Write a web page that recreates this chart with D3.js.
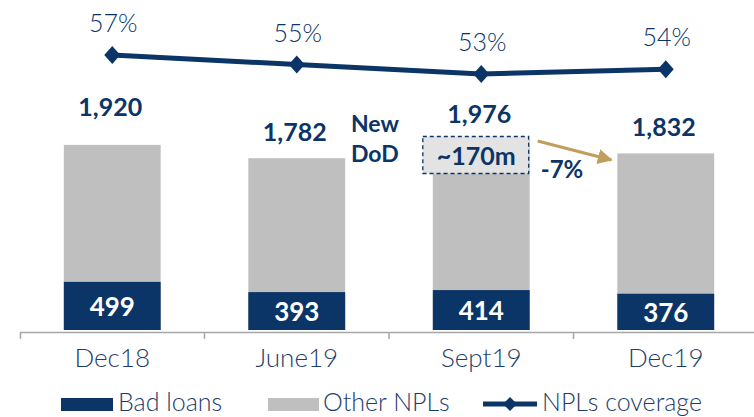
<!DOCTYPE html>
<html>
<head>
<meta charset="utf-8">
<script src="https://cdn.jsdelivr.net/npm/d3@7"></script>
<style>
  body { margin: 0; background: #fff; }
  svg { font-family: Lato, "Open Sans", sans-serif; }
</style>
</head>
<body>
<div id="chart"></div>
<script>
const categories = ['Dec18', 'June19', 'Sept19', 'Dec19'];
const badLoans = [499, 393, 414, 376];
const totalNpls = [1920, 1782, 1976, 1832];
const coverage = [57, 55, 53, 54];
const legendLabels = ['Bad loans', 'Other NPLs', 'NPLs coverage'];

const navy = '#0b3467';
const grey = '#bfbfbf';
const gold = '#c29e5e';

const width = 754, height = 417;
const baseY = 330;

const svg = d3.select('#chart').append('svg')
  .attr('width', width)
  .attr('height', height);

const x = d3.scaleBand()
  .domain(categories)
  .range([20, 758])
  .padding(0);

const barW = x.bandwidth() * 0.525;
const barX = d => x(d) + (x.bandwidth() - barW) / 2;

const y = d3.scaleLinear()
  .domain([0, 2000])
  .range([baseY, baseY - 192.8]);

const y2 = d3.scaleLinear()
  .domain([0, 60])
  .range([325.75, 40.75]);

// stacked bars
const stackData = categories.map((c, i) => ({cat: c, bad: badLoans[i], total: totalNpls[i]}));

svg.append('g')
  .selectAll('rect')
  .data(stackData)
  .enter().append('rect')
  .attr('x', d => barX(d.cat))
  .attr('y', d => y(d.total))
  .attr('width', barW)
  .attr('height', d => y(0) - y(d.total))
  .attr('fill', grey);

svg.append('g')
  .selectAll('rect')
  .data(stackData)
  .enter().append('rect')
  .attr('x', d => barX(d.cat))
  .attr('y', d => y(d.bad))
  .attr('width', barW)
  .attr('height', d => y(0) - y(d.bad))
  .attr('fill', navy);

// bad loans labels
svg.append('g')
  .selectAll('text')
  .data(stackData)
  .enter().append('text')
  .attr('x', d => x(d.cat) + x.bandwidth() / 2)
  .attr('y', d => (y(d.bad) + y(0)) / 2 + 10)
  .attr('text-anchor', 'middle')
  .attr('fill', '#fff')
  .attr('font-weight', 700)
  .attr('font-size', 26)
  .text(d => d.bad);

// totals
const fmt = d3.format(',');
svg.append('g')
  .selectAll('text')
  .data(stackData)
  .enter().append('text')
  .attr('x', d => x(d.cat) + x.bandwidth() / 2 - 2)
  .attr('y', (d, i) => y(d.total) - (i === 0 ? 29 : 17))
  .attr('text-anchor', 'middle')
  .attr('fill', navy)
  .attr('font-weight', 700)
  .attr('font-size', 25)
  .text(d => fmt(d.total));

// axis
const xAxis = d3.axisBottom(x)
  .tickSize(0)
  .tickSizeOuter(7)
  .tickPadding(17);

const ax = svg.append('g')
  .attr('transform', 'translate(0,' + (baseY + 2) + ')')
  .call(xAxis);
ax.select('.domain').attr('stroke', '#a6a6a6').attr('stroke-width', 1.5);
ax.selectAll('.tick text')
  .attr('fill', '#1f3d6b')
  .attr('font-size', 26)
  .attr('font-family', 'Lato, sans-serif')
  .attr('font-weight', 300);
ax.selectAll('.sep')
  .data(categories.slice(1))
  .enter().append('line')
  .attr('class', 'sep')
  .attr('x1', d => x(d)).attr('x2', d => x(d))
  .attr('y1', 0).attr('y2', 7)
  .attr('stroke', '#a6a6a6')
  .attr('stroke-width', 1.5);

// coverage line
const cx = d => x(d) + x.bandwidth() / 2;
const line = d3.line()
  .x((d, i) => cx(categories[i]))
  .y(d => y2(d));

svg.append('path')
  .datum(coverage)
  .attr('d', line)
  .attr('fill', 'none')
  .attr('stroke', navy)
  .attr('stroke-width', 5);

svg.append('g')
  .selectAll('path')
  .data(coverage)
  .enter().append('path')
  .attr('transform', (d, i) => 'translate(' + cx(categories[i]) + ',' + y2(d) + ')')
  .attr('d', 'M0,-9L8,0L0,9L-8,0Z')
  .attr('fill', navy);

svg.append('g')
  .selectAll('text')
  .data(coverage)
  .enter().append('text')
  .attr('x', (d, i) => cx(categories[i]) + 1)
  .attr('y', d => y2(d) - 23)
  .attr('text-anchor', 'middle')
  .attr('fill', navy)
  .attr('font-size', 25)
  .attr('font-weight', 300)
  .text(d => d + '%');

// annotations
const sx = barX('Sept19');
svg.append('rect')
  .attr('x', sx - 10)
  .attr('y', y(totalNpls[2]) - 3)
  .attr('width', barW + 9)
  .attr('height', 37)
  .attr('fill', '#e3e3e3')
  .attr('stroke', navy)
  .attr('stroke-width', 1.3)
  .attr('stroke-dasharray', '4,3');

svg.append('text')
  .attr('x', sx + barW / 2 - 5)
  .attr('y', y(totalNpls[2]) + 25)
  .attr('text-anchor', 'middle')
  .attr('fill', navy)
  .attr('font-weight', 700)
  .attr('font-size', 25)
  .text('~170m');

const dod = svg.append('text')
  .attr('fill', navy)
  .attr('font-weight', 700)
  .attr('font-size', 23);
dod.append('tspan').attr('x', 351).attr('y', 132).text('New');
dod.append('tspan').attr('x', 351).attr('y', 162).text('DoD');

svg.append('defs').append('marker')
  .attr('id', 'arrow')
  .attr('viewBox', '0 0 10 10')
  .attr('refX', 9).attr('refY', 5)
  .attr('markerWidth', 5).attr('markerHeight', 5)
  .attr('orient', 'auto')
  .append('path')
  .attr('d', 'M0,0L10,5L0,10Z')
  .attr('fill', gold);

const dx = barX('Dec19');
svg.append('line')
  .attr('x1', sx + barW + 8).attr('y1', 141)
  .attr('x2', dx - 6).attr('y2', 160)
  .attr('stroke', gold)
  .attr('stroke-width', 3)
  .attr('marker-end', 'url(#arrow)');

svg.append('text')
  .attr('x', 562)
  .attr('y', 178)
  .attr('text-anchor', 'middle')
  .attr('fill', navy)
  .attr('font-weight', 700)
  .attr('font-size', 24)
  .text('-7%');

// legend
const leg = svg.append('g').attr('transform', 'translate(0,404)');
leg.append('rect').attr('x', 61).attr('y', -6).attr('width', 52).attr('height', 13).attr('fill', navy);
leg.append('rect').attr('x', 268).attr('y', -6).attr('width', 51).attr('height', 13).attr('fill', grey);
leg.append('line').attr('x1', 483).attr('x2', 537).attr('y1', 0).attr('y2', 0)
  .attr('stroke', navy).attr('stroke-width', 5);
leg.append('path').attr('transform', 'translate(510,0)').attr('d', 'M0,-7L7,0L0,7L-7,0Z').attr('fill', navy);

const legX = [118, 323, 542];
leg.selectAll('text')
  .data(legendLabels)
  .enter().append('text')
  .attr('x', (d, i) => legX[i])
  .attr('y', 7)
  .attr('fill', '#1f3d6b')
  .attr('font-size', 25)
  .attr('font-weight', 300)
  .text(d => d);
</script>
</body>
</html>
